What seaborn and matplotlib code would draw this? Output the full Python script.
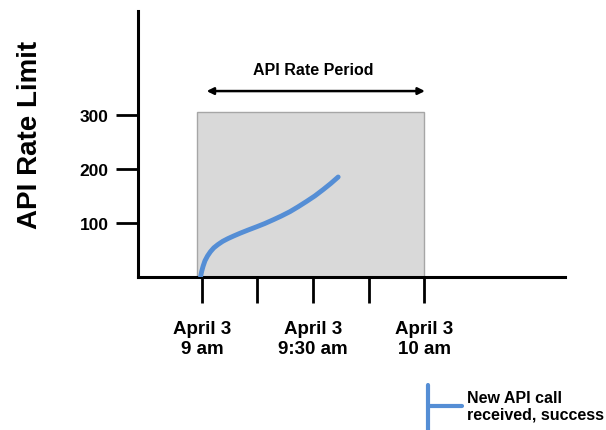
import matplotlib
matplotlib.use("Agg")
import matplotlib.pyplot as plt
import seaborn as sns
import pandas as pd
from matplotlib.lines import Line2D
from matplotlib.patches import Rectangle

# minutes after 9 am vs. rate used
minutes = [-0.4, -0.1, 0.3, 0.8, 1.5, 2.3, 3.2, 4.3, 5.6, 7.0, 8.6, 10.3, 12.5,
           14.8, 17.0, 19.3, 21.5, 23.8, 26.0, 28.3, 30.5, 32.8, 34.8, 36.8]
calls = [0, 10, 20, 30, 39, 47, 54, 60, 66, 71, 76, 81, 87,
         93, 99, 106, 113, 121, 130, 140, 150, 162, 173, 185]

x_ticks = [0, 15, 30, 45, 60]
x_labels = ["April 3\n9 am", "", "April 3\n9:30 am", "", "April 3\n10 am"]
y_ticks = [100, 200, 300]
y_labels = ["100", "200", "300"]

period_start, period_end, period_top = -1.4, 60, 305

sns.set_style("white")
plt.rcParams['font.family'] = ['Liberation Sans', 'DejaVu Sans']
plt.rcParams['font.weight'] = 'bold'
plt.rcParams['text.color'] = 'black'
plt.rcParams['xtick.color'] = 'black'
plt.rcParams['ytick.color'] = 'black'
plt.rcParams['axes.labelcolor'] = 'black'

fig = plt.figure(figsize=(6.06, 4.31), dpi=100)
ax = fig.add_axes([0.2277, 0.355, 0.7046, 0.617])

ax.add_patch(Rectangle((period_start, 0), period_end - period_start, period_top,
                       facecolor='#d9d9d9', edgecolor='#a6a6a6', lw=1, zorder=1))

df = pd.DataFrame({'t': minutes, 'v': calls})
sns.lineplot(data=df, x='t', y='v', ax=ax, color='#558ed5', lw=3.5, zorder=3,
             sort=False)
ax.lines[-1].set_solid_joinstyle('round')

ax.annotate('', xy=(61, 344), xytext=(0.5, 344),
            arrowprops=dict(arrowstyle='<|-|>', color='black', lw=1.8,
                            mutation_scale=10))
ax.text(30, 383, 'API Rate Period', ha='center', va='center', fontsize=11.5, fontweight='bold')

ax.set_xlim(-17.3, 98.1)
ax.set_ylim(0, 492)
ax.set_xticks(x_ticks)
ax.set_xticklabels(x_labels, fontsize=13.5, fontweight='bold', linespacing=1.25)
ax.set_yticks(y_ticks)
ax.set_yticklabels(y_labels, fontsize=12.5, fontweight='bold')
ax.tick_params(axis='x', direction='out', length=19, width=2, pad=12, bottom=True)
ax.tick_params(axis='y', direction='out', length=16, width=2, pad=5, left=True)
ax.set_xlabel('')
ax.set_ylabel('API Rate Limit', fontsize=20, fontweight='bold')
ax.yaxis.set_label_coords(-0.222, 0.538)

for s in ['top', 'right']:
    ax.spines[s].set_visible(False)
for s in ['left', 'bottom']:
    ax.spines[s].set_linewidth(2.2)
    ax.spines[s].set_color('black')

# legend glyph
fig.add_artist(Line2D([428/606, 428/606], [1 - 386/431, 0], color='#558ed5', lw=3))
fig.add_artist(Line2D([428/606, 462/606], [1 - 407/431, 1 - 407/431], color='#558ed5', lw=3))
fig.text(467/606, 1 - 407/431, 'New API call\nreceived, success', fontsize=11.5,
         fontweight='bold', va='center', ha='left', linespacing=1.15)

fig.savefig('out.png', dpi=100)
